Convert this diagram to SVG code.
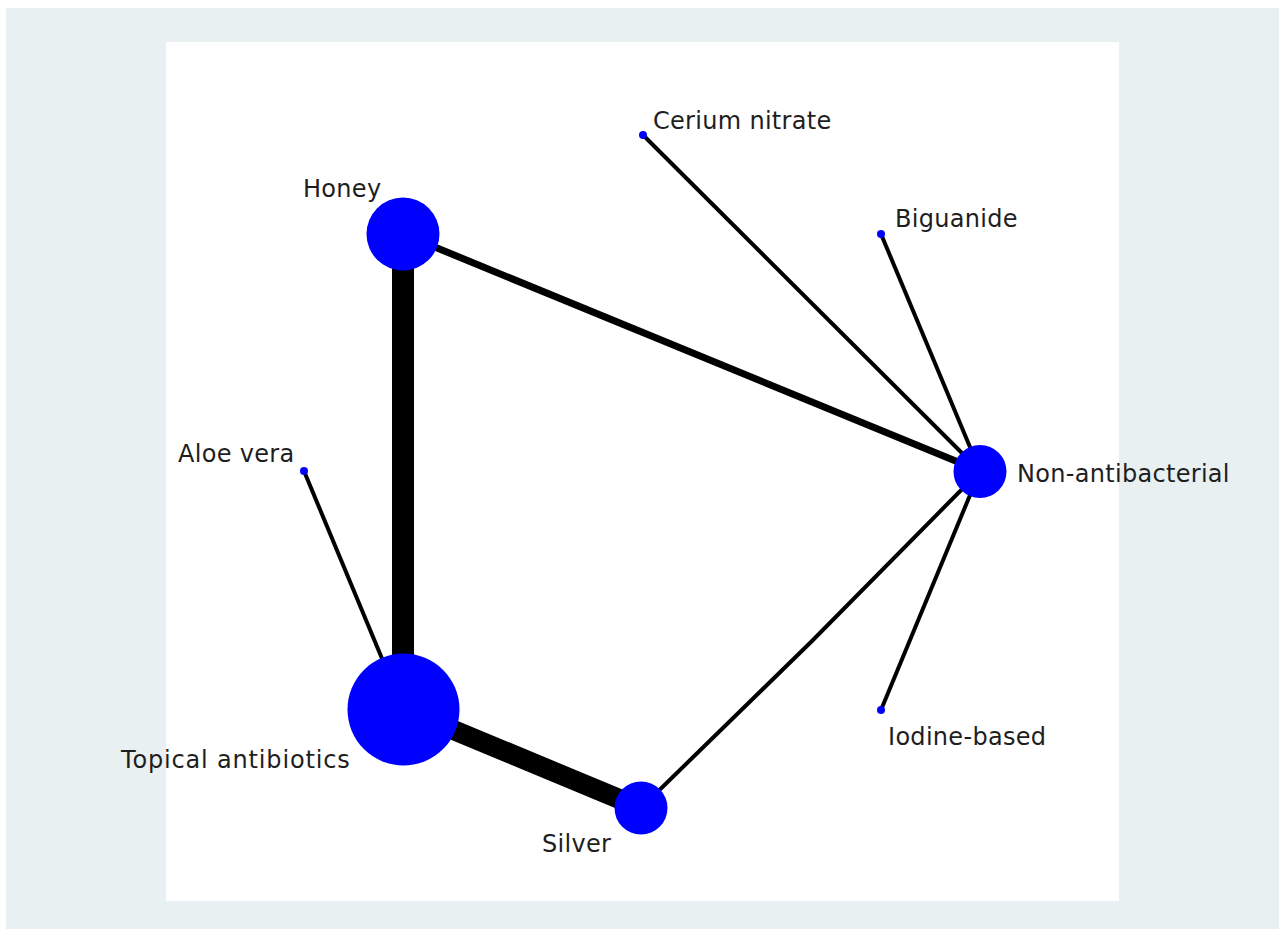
<svg xmlns="http://www.w3.org/2000/svg" width="1279" height="929" viewBox="0 0 1279 929">
<style>
.lbl{font-family:"DejaVu Sans",sans-serif;font-size:24px;fill:#1e1e1e;letter-spacing:0.3px}
.node{fill:#0000ff}
.e{stroke:#000;fill:none}
</style>
<rect x="0" y="0" width="1279" height="929" fill="#ffffff"/>
<rect x="6" y="8" width="1273" height="921" fill="#e8f0f2"/>
<rect x="166" y="42" width="953" height="859" fill="#ffffff"/>
<g id="connectors">
<line class="e" x1="403" y1="234" x2="403" y2="709" stroke-width="22"/>
<line class="e" x1="403" y1="709" x2="641" y2="808" stroke-width="20"/>
<line class="e" x1="403" y1="234" x2="980" y2="471" stroke-width="7"/>
<polyline class="e" points="641,808 812,641 980,471" stroke-width="4"/>
<line class="e" x1="643" y1="135" x2="980" y2="471" stroke-width="4"/>
<line class="e" x1="881" y1="234" x2="980" y2="471" stroke-width="4"/>
<line class="e" x1="881" y1="710" x2="980" y2="471" stroke-width="4"/>
<line class="e" x1="304" y1="471" x2="403" y2="709" stroke-width="4"/>
</g>
<g id="honey"><circle class="node" cx="403" cy="234" r="36.5"/><text class="lbl" x="303" y="197">Honey</text></g>
<g id="topical-antibiotics"><circle class="node" cx="403.5" cy="709.5" r="56"/><text class="lbl" x="121" y="768" textLength="229" lengthAdjust="spacing">Topical antibiotics</text></g>
<g id="silver"><circle class="node" cx="641" cy="808" r="26.5"/><text class="lbl" x="542" y="852">Silver</text></g>
<g id="non-antibacterial"><circle class="node" cx="980" cy="471.5" r="26.5"/><text class="lbl" x="1017" y="482">Non-antibacterial</text></g>
<g id="cerium-nitrate"><circle class="node" cx="643" cy="135" r="4"/><text class="lbl" x="653" y="129">Cerium nitrate</text></g>
<g id="biguanide"><circle class="node" cx="881" cy="234" r="4"/><text class="lbl" x="895" y="227">Biguanide</text></g>
<g id="aloe-vera"><circle class="node" cx="304" cy="471" r="4"/><text class="lbl" x="178" y="462">Aloe vera</text></g>
<g id="iodine-based"><circle class="node" cx="881" cy="710" r="4"/><text class="lbl" x="888" y="745">Iodine-based</text></g>
</svg>
